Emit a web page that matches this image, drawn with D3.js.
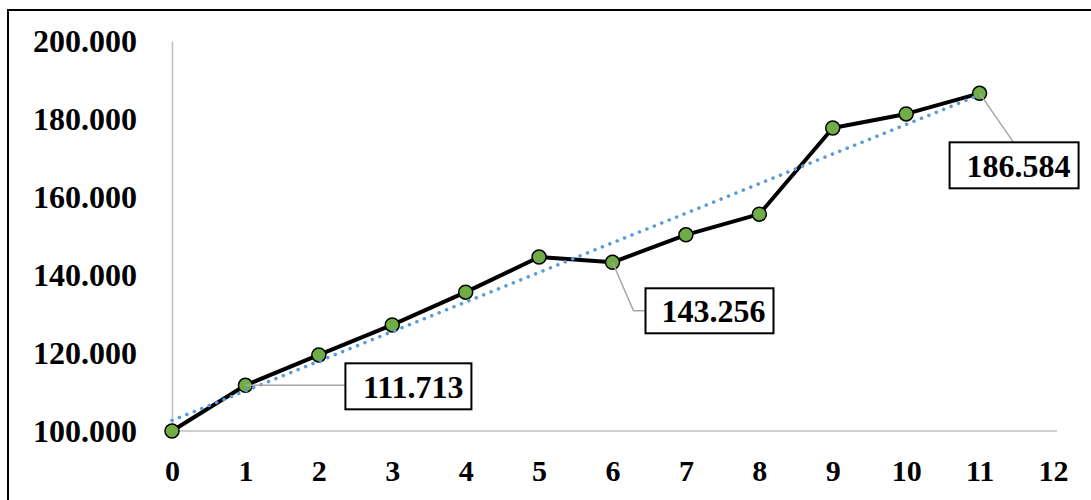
<!DOCTYPE html>
<html>
<head>
<meta charset="utf-8">
<script src="https://cdn.jsdelivr.net/npm/d3@7"></script>
<style>
  body { margin: 0; background: #fff; }
  svg { display: block; }
  text { font-family: "Liberation Serif", "Times New Roman", serif; font-weight: bold; fill: #000; }
</style>
</head>
<body>
<div id="chart"></div>
<script>
// ---------- data ----------
var periods = [0, 1, 2, 3, 4, 5, 6, 7, 8, 9, 10, 11];
var values = [100, 111.713, 119.5, 127.2, 135.6, 144.6, 143.256, 150.3, 155.6, 177.7, 181.3, 186.584];
var xTicks = [0, 1, 2, 3, 4, 5, 6, 7, 8, 9, 10, 11, 12];
var yTicks = [100, 120, 140, 160, 180, 200];
var yTickLabels = ["100.000", "120.000", "140.000", "160.000", "180.000", "200.000"];
var labelled = [1, 6, 11];
var labelTexts = ["111.713", "143.256", "186.584"];

(function() {
	var width = 1091,
		height = 500;

	var svg = d3.select("#chart").append("svg")
		.attr("width", width)
		.attr("height", height);

	// frame (only left and top edges show)
	svg.append("path")
		.attr("d", "M8,500V10H1091")
		.attr("fill", "none")
		.attr("stroke", "#000")
		.attr("stroke-width", 2);

	var x = d3.scaleLinear().domain([0, 12]).range([172, 1053]),
		y = d3.scaleLinear().domain([100, 200]).range([431, 41]);

	// y axis
	var yAxis = svg.append("g")
		.attr("transform", "translate(" + x(0) + ",0)")
		.call(d3.axisLeft(y)
			.tickValues(yTicks)
			.tickFormat(function(d, i) { return yTickLabels[i]; })
			.tickSize(0)
			.tickPadding(35));
	yAxis.select(".domain").attr("stroke", "#bfbfbf").attr("stroke-width", 1.5);
	yAxis.selectAll("text")
		.attr("font-size", 32)
		.attr("font-family", null);

	// x axis
	var xAxis = svg.append("g")
		.attr("transform", "translate(0," + y(100) + ")")
		.call(d3.axisBottom(x)
			.tickValues(xTicks)
			.tickFormat(d3.format("d"))
			.tickSize(0)
			.tickPadding(29));
	xAxis.select(".domain")
		.attr("d", "M" + x(0) + ",0H" + (x(12) + 4))
		.attr("stroke", "#bfbfbf").attr("stroke-width", 1.5);
	xAxis.selectAll("text")
		.attr("font-size", 30)
		.attr("font-family", null);

	var pts = periods.map(function(p, i) { return [p, values[i]]; });

	// series line
	var line = d3.line()
		.x(function(d) { return x(d[0]); })
		.y(function(d) { return y(d[1]); });

	svg.append("path")
		.datum(pts)
		.attr("d", line)
		.attr("fill", "none")
		.attr("stroke", "#000")
		.attr("stroke-width", 4)
		.attr("stroke-linejoin", "round");

	svg.selectAll("circle.pt")
		.data(pts)
		.enter().append("circle")
		.attr("class", "pt")
		.attr("cx", function(d) { return x(d[0]); })
		.attr("cy", function(d) { return y(d[1]); })
		.attr("r", 7)
		.attr("fill", "#70ad47")
		.attr("stroke", "#000")
		.attr("stroke-width", 1.5);

	// linear trend line (least squares)
	var mx = d3.mean(periods),
		my = d3.mean(values),
		sxy = d3.sum(periods, function(p, i) { return (p - mx) * (values[i] - my); }),
		sxx = d3.sum(periods, function(p) { return (p - mx) * (p - mx); }),
		slope = sxy / sxx,
		icpt = my - slope * mx;
	var trend = [0, 11].map(function(p) { return [p, icpt + slope * p]; });

	svg.append("path")
		.datum(trend)
		.attr("d", line)
		.attr("fill", "none")
		.attr("stroke", "#5b9bd5")
		.attr("stroke-width", 3.5)
		.attr("stroke-linecap", "round")
		.attr("stroke-dasharray", "0.1 7.9");

	// data labels with leader lines
	var boxes = [
		{ dx: 100, dy: -22, w: 126, h: 46, leader: "h" },
		{ dx: 33, dy: 26, w: 128, h: 45, leader: "elbow" },
		{ dx: -30, dy: 49, w: 129, h: 46, leader: "top" }
	];

	labelled.forEach(function(idx, k) {
		var px = x(periods[idx]),
			py = y(values[idx]),
			b = boxes[k],
			bx = px + b.dx,
			by = py + b.dy;
		var d;
		if (b.leader === "h") d = "M" + px + "," + py + "H" + bx;
		else if (b.leader === "elbow") d = "M" + px + "," + py + "L" + (bx - 12) + "," + (by + b.h / 2) + "H" + bx;
		else d = "M" + px + "," + py + "L" + (px + 34) + "," + by;
		svg.append("path")
			.attr("d", d)
			.attr("fill", "none")
			.attr("stroke", "#a6a6a6")
			.attr("stroke-width", 1.5);
		svg.append("rect")
			.attr("x", bx).attr("y", by)
			.attr("width", b.w).attr("height", b.h)
			.attr("fill", "#fff")
			.attr("stroke", "#000")
			.attr("stroke-width", 2);
		svg.append("text")
			.attr("x", bx + b.w - 8)
			.attr("y", by + b.h / 2)
			.attr("dy", "0.35em")
			.attr("text-anchor", "end")
			.attr("font-size", 32)
			.text(labelTexts[k]);
	});
})();
</script>
</body>
</html>
